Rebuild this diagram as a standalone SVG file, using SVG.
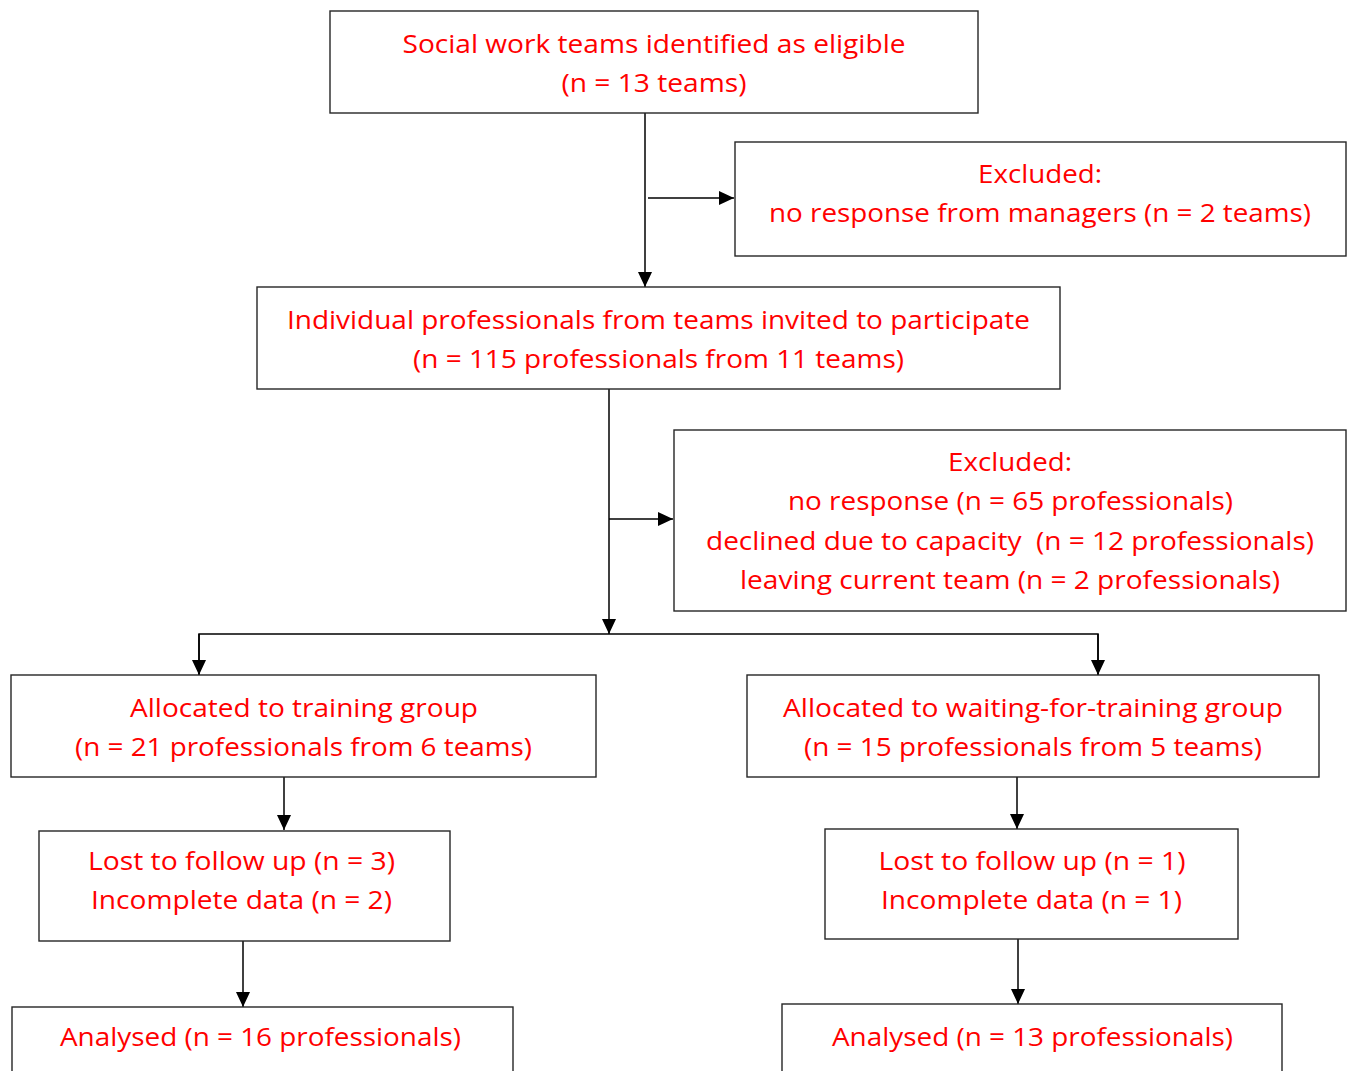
<svg xmlns="http://www.w3.org/2000/svg" width="1352" height="1071" viewBox="0 0 1352 1071">
<style>
.box{fill:#fff;stroke:#262626;stroke-width:1.4}
.t{font-family:"Open Sans","Liberation Sans",sans-serif;font-size:26px;fill:#ff0000;text-anchor:middle}
.c{stroke:#000;stroke-width:1.5;fill:none}
.a{marker-end:url(#ah)}
</style>
<defs>
<marker id="ah" markerUnits="userSpaceOnUse" markerWidth="18" markerHeight="16" refX="15" refY="7" orient="auto">
<path d="M0,0 L15,7 L0,14 z" fill="#000"/>
</marker>
</defs>
<rect width="1352" height="1071" fill="#fff"/>
<g id="connectors">
<line class="c a" x1="645" y1="113" x2="645" y2="287"/>
<line class="c a" x1="648" y1="198" x2="734" y2="198"/>
<line class="c a" x1="609" y1="389" x2="609" y2="634"/>
<line class="c a" x1="609" y1="519" x2="673" y2="519"/>
<polyline class="c" points="199,675 199,634 1098,634 1098,675"/>
<line class="c a" x1="199" y1="634" x2="199" y2="675"/>
<line class="c a" x1="1098" y1="634" x2="1098" y2="675"/>
<line class="c a" x1="284" y1="777" x2="284" y2="830"/>
<line class="c a" x1="1017" y1="777" x2="1017" y2="829"/>
<line class="c a" x1="243" y1="941" x2="243" y2="1007"/>
<line class="c a" x1="1018" y1="939" x2="1018" y2="1004"/>
</g>
<g id="n1">
<rect class="box" x="330" y="11" width="648" height="102"/>
<text class="t" x="654" y="53" textLength="503" lengthAdjust="spacingAndGlyphs">Social work teams identified as eligible</text>
<text class="t" x="654" y="92" textLength="185" lengthAdjust="spacingAndGlyphs">(n = 13 teams)</text>
</g>
<g id="n2">
<rect class="box" x="735" y="142" width="611" height="114"/>
<text class="t" x="1040" y="183" textLength="124" lengthAdjust="spacingAndGlyphs">Excluded:</text>
<text class="t" x="1040" y="222" textLength="542" lengthAdjust="spacingAndGlyphs">no response from managers (n = 2 teams)</text>
</g>
<g id="n3">
<rect class="box" x="257" y="287" width="803" height="102"/>
<text class="t" x="658.5" y="329" textLength="743" lengthAdjust="spacingAndGlyphs">Individual professionals from teams invited to participate</text>
<text class="t" x="658.5" y="368" textLength="491" lengthAdjust="spacingAndGlyphs">(n = 115 professionals from 11 teams)</text>
</g>
<g id="n4">
<rect class="box" x="674" y="430" width="672" height="181"/>
<text class="t" x="1010" y="471" textLength="124" lengthAdjust="spacingAndGlyphs">Excluded:</text>
<text class="t" x="1010.5" y="510" textLength="445" lengthAdjust="spacingAndGlyphs">no response (n = 65 professionals)</text>
<text class="t" x="1010" y="550" textLength="608" lengthAdjust="spacingAndGlyphs" xml:space="preserve">declined due to capacity  (n = 12 professionals)</text>
<text class="t" x="1010" y="589" textLength="540" lengthAdjust="spacingAndGlyphs">leaving current team (n = 2 professionals)</text>
</g>
<g id="n5">
<rect class="box" x="11" y="675" width="585" height="102"/>
<text class="t" x="304" y="717" textLength="348" lengthAdjust="spacingAndGlyphs">Allocated to training group</text>
<text class="t" x="303.5" y="756" textLength="457" lengthAdjust="spacingAndGlyphs">(n = 21 professionals from 6 teams)</text>
</g>
<g id="n6">
<rect class="box" x="747" y="675" width="572" height="102"/>
<text class="t" x="1033" y="717" textLength="500" lengthAdjust="spacingAndGlyphs">Allocated to waiting-for-training group</text>
<text class="t" x="1033" y="756" textLength="458" lengthAdjust="spacingAndGlyphs">(n = 15 professionals from 5 teams)</text>
</g>
<g id="n7">
<rect class="box" x="39" y="831" width="411" height="110"/>
<text class="t" x="241.5" y="870" textLength="307" lengthAdjust="spacingAndGlyphs">Lost to follow up (n = 3)</text>
<text class="t" x="241.5" y="909" textLength="301" lengthAdjust="spacingAndGlyphs">Incomplete data (n = 2)</text>
</g>
<g id="n8">
<rect class="box" x="825" y="829" width="413" height="110"/>
<text class="t" x="1032" y="870" textLength="307" lengthAdjust="spacingAndGlyphs">Lost to follow up (n = 1)</text>
<text class="t" x="1031.5" y="909" textLength="301" lengthAdjust="spacingAndGlyphs">Incomplete data (n = 1)</text>
</g>
<g id="n9">
<rect class="box" x="12" y="1007" width="501" height="80"/>
<text class="t" x="260.5" y="1046" textLength="401" lengthAdjust="spacingAndGlyphs">Analysed (n = 16 professionals)</text>
</g>
<g id="n10">
<rect class="box" x="782" y="1004" width="500" height="80"/>
<text class="t" x="1032.5" y="1046" textLength="401" lengthAdjust="spacingAndGlyphs">Analysed (n = 13 professionals)</text>
</g>
</svg>
